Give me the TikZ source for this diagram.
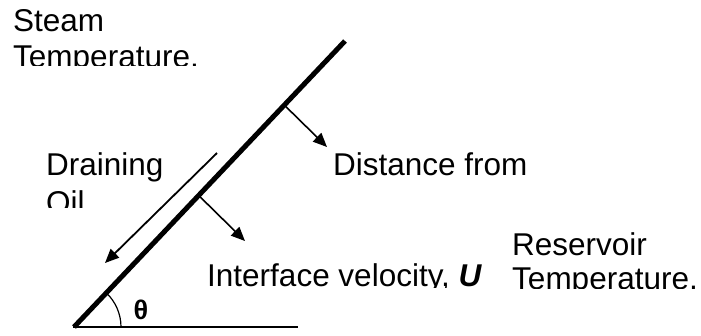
\documentclass[tikz,border=0pt]{standalone}
\usepackage{fontspec}
\setmainfont{Liberation Sans}
\usetikzlibrary{arrows.meta,calc}
\begin{document}
\begin{tikzpicture}[x=1pt,y=-1pt,
  lbl/.style={anchor=base west, inner sep=0pt, font=\fontsize{31.5}{37}\selectfont},
  wall/.style={line width=5pt},
  ground/.style={line width=2.5pt},
  anglearc/.style={line width=1.2pt},
  normarrow/.style={line width=1.6pt, -{Triangle[length=14pt,width=12pt]}},
  drainarrow/.style={line width=1.8pt, -{Triangle[length=14pt,width=12pt]}}]
\useasboundingbox (0,0) rectangle (701,335);
% geometry
\coordinate (O) at (74,327);
\coordinate (B) at (345,41);
\coordinate (G) at (298,327);
\draw[wall] (O) -- (B);
\draw[ground] ([xshift=-1pt]O) -- (G);
\draw[anglearc] ([xshift=47pt]O) arc[start angle=0,end angle=46.5,radius=47pt];
\node[inner sep=0pt, font=\fontsize{27}{30}\selectfont\bfseries] (theta) at (141,310) {θ};
% normal arrows
\coordinate (n1s) at ($(O)!0.776!(B)$);
\coordinate (n1e) at (327,147);
\coordinate (n2s) at ($(O)!0.46!(B)$);
\coordinate (n2e) at (245,241);
\draw[normarrow] (n1s) -- (n1e);
\draw[normarrow] (n2s) -- (n2e);
% draining oil
\coordinate (d1) at (217,153);
\coordinate (d2) at (105,263);
\draw[drainarrow] (d1) -- (d2);
% labels
\node[lbl] (steam1) at (13,31.5) {Steam};
\begin{scope}
  \clip (0,40) rectangle (300,65.5);
  \node[lbl] (steam2) at (13,67) {Temperature,};
\end{scope}
\node[lbl] (drain1) at (46,175) {Draining};
\begin{scope}
  \clip (30,185) rectangle (200,207);
  \node[lbl] (drain2) at (46,213) {Oil};
\end{scope}
\node[lbl] (dist) at (333,175) {Distance from};
\begin{scope}
  \clip (190,240) rectangle (500,287.5);
  \node[lbl] (iface) at (207,286.5) {Interface velocity, \textbf{\textit{U}}};
\end{scope}
\node[lbl] (res1) at (512,255) {Reservoir};
\begin{scope}
  \clip (500,260) rectangle (701,288);
  \node[lbl] (res2) at (512,289.5) {Temperature,};
\end{scope}
\end{tikzpicture}
\end{document}
